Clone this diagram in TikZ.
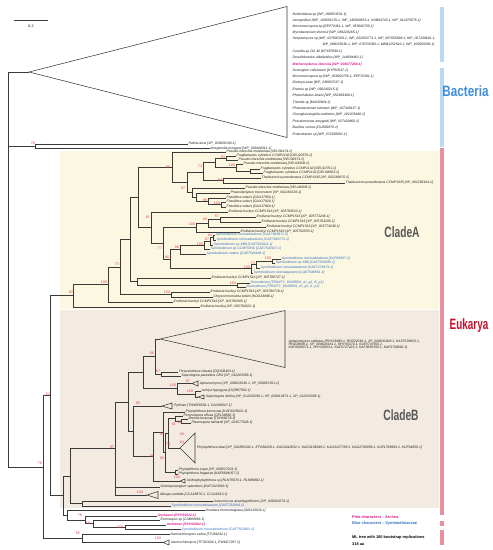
\documentclass[tikz,border=0pt]{standalone}
\usepackage{fontspec}
\setmainfont{Liberation Sans}
\usepackage{graphicx}
\definecolor{bsred}{HTML}{E53C46}
\definecolor{symblue}{HTML}{2F6CC4}
\definecolor{archpink}{HTML}{E0158A}
\definecolor{cAbg}{HTML}{FBF7E1}
\definecolor{cBbg}{HTML}{F3EBE1}
\definecolor{barblue}{HTML}{BCD9F2}
\definecolor{barpink}{HTML}{E8919E}
\definecolor{bactblue}{HTML}{3E8EDB}
\definecolor{eukred}{HTML}{C8102E}
\definecolor{cladegray}{HTML}{58585A}
\definecolor{linecol}{HTML}{3A3A3A}
\newcommand\lff{\fontsize{3.4}{4}\selectfont\itshape}
\newcommand\bsf{\fontsize{3.6}{4}\selectfont}
\newcommand\Nd[4]{\coordinate (#2) at (#3,#4); \draw[br] (#1) |- (#2);}
\newcommand\Lf[6][]{\coordinate (#3) at (#4,#5); \draw[br] (#2) |- (#3); \node[lf,#1] (t#3) at (#3) {#6};}
\newcommand\Tr[8][]{\coordinate (#3) at (#4,#5); \draw[br] (#2) |- (#3); \draw[br] (#3) -- (#6,#5-#7) -- (#6,#5+#7) -- cycle; \node[lf,#1] (t#3) at (#6+1.5,#5) {#8};}
\newcommand\Bs[4]{\node[bs] (#1) at (#2,#3) {#4};}
\newcommand\bigword[3]{\scalebox{#1}[1]{\fontsize{#2}{#2}\selectfont\bfseries #3}}
\tikzset{
  br/.style={draw=linecol, line width=0.55pt},
  lf/.style={anchor=west, inner sep=0.5pt, font=\lff, text=black!88},
  sym/.style={text=symblue},
  arc/.style={text=archpink, font=\lff\bfseries},
  bs/.style={inner sep=0pt, font=\bsf, text=bsred},
  leg/.style={anchor=west, inner sep=0pt, font=\fontsize{3.9}{4.5}\selectfont\bfseries}
}
\begin{document}
\begin{tikzpicture}[x=1pt,y=-1pt]
\useasboundingbox (0,0) rectangle (493,550);
\fill[white] (0,0) rectangle (493,550);
% backgrounds
\fill[cAbg] (60,150.5) rectangle (439,309);
\fill[cBbg] (60,309.5) rectangle (439,508);
% side bars
\fill[barblue] (440,7) rectangle (444,62);
\fill[barblue] (440,68) rectangle (444,147);
\fill[barpink] (440,148) rectangle (444,515);
\fill[barpink] (440,521) rectangle (444,526);
\fill[barpink] (440,530) rectangle (444,545);
\node[text=bactblue] (lbact) at (465.5,91.5) {\bigword{0.78}{15}{Bacteria}};
\node[text=eukred] (leuk) at (469,326) {\bigword{0.66}{15}{Eukarya}};
\node[text=cladegray] (lcA) at (402,232) {\bigword{0.68}{15}{CladeA}};
\node[text=cladegray] (lcB) at (401,415) {\bigword{0.68}{15}{CladeB}};
% scale bar
\coordinate (sb1) at (14,20); \coordinate (sb2) at (48,20);
\draw[br] (sb1) -- (sb2);
\node[inner sep=0pt, font=\fontsize{3.6}{4}\selectfont] (sbl) at (31,26.5) {0.2};
% root
\coordinate (root) at (8,270);
\Tr{root}{bact}{29}{72}{287}{65.5}{}
\node[lf] (b1) at (292,15) {Burkholderia sp [WP\_098853531.1]};
\node[lf] (b2) at (292,21) {Azospirillum [WP\_109051070.1, WP\_145660853.1, NUB04743.1, WP\_012975576.1]};
\node[lf] (b3) at (292,27) {Micromonospora sp [EEP70361.1, WP\_053660755.1]};
\node[lf] (b4) at (292,33) {Mycobacterium sherrisii [WP\_084229265.1]};
\node[lf] (b5) at (292,39) {Streptomyces sp [WP\_037800363.1, WP\_052650771.1, WP\_087055898.1, WP\_067238601.1,};
\node[lf] (b5b) at (322,45) {WP\_098025036.1, WP\_078705080.1, MBB1252542.1, WP\_159665058.1]};
\node[lf] (b6) at (292,52) {Coxiella sp DG 40 [KFX87896.1]};
\node[lf] (b7) at (292,58) {Desulfobotulus alkaliphilus [WP\_144684461.1]};
\node[lf,arc] (b8) at (292,64.5) {Methanoplanus limicola [WP\_004077288.1]};
\node[lf] (b9) at (292,71) {Sorangium cellulosum [KYF60037.1]};
\node[lf] (b10) at (292,77) {Micromonospora sp [WP\_053660756.1, EEP70391.1]};
\node[lf] (b11) at (292,83) {Dickeya zeae [WP\_038907037.1]};
\node[lf] (b12) at (292,89.5) {Erwinia sp [WP\_096240215.1]};
\node[lf] (b13) at (292,96) {Photorhabdus khanii [WP\_052983308.1]};
\node[lf] (b14) at (292,102.5) {Tistrella sp [MAI33904.1]};
\node[lf] (b15) at (292,109) {Photobacterium lutimaris [WP\_107349157.1]};
\node[lf] (b16) at (292,115) {Chengkuizengella sediminis [WP\_182205488.1]};
\node[lf] (b17) at (292,121.5) {Pseudomonas amygdali [WP\_057429860.1]};
\node[lf] (b18) at (292,128) {Bacillus cereus [OUB09676.1]};
\node[lf] (b19) at (292,135) {Enterobacter sp [WP\_072568091.1]};
% Hafnia / Morganella
\Nd{root}{N76}{35}{146.25}
\Lf{N76}{hafn}{188}{144}{Hafnia alvei [XP\_009828190.1]}
\Lf{N76}{morg}{210}{148.5}{Morganella morganii [WP\_036408011.1]}
% main eukaryote part
\Nd{root}{N78r}{43}{467.1}
\Nd{N78r}{N51}{50}{395.7}
% ---------- Clade A
\Nd{N51}{N82}{73}{295.75}
\Lf{N82}{l34}{200}{307}{Emiliania huxleyi [XP\_005782921.1]}
\Nd{N82}{N100a}{108}{284.5}
\Lf{N100a}{l33}{173}{302}{Emiliania huxleyi CCMP1516 [XP\_005780305.1]}
\Nd{N100a}{N73}{120}{267}
\Nd{N73}{N100b}{171}{294.5}
\Lf{N100b}{l31}{210}{292}{Emiliania huxleyi CCMP1516 [XP\_005780719.1]}
\Lf{N100b}{l32}{213}{297}{Chrysochromulina tobinii [KOO24098.1]}
\Nd{N73}{N130}{130}{239.4}
\Nd{N130}{N137}{137}{281.5}
\Lf{N137}{l28}{211}{278}{Emiliania huxleyi CCMP1516 [XP\_005780727.1]}
\Nd{N137}{N100d}{237}{285}
\Lf[sym]{N100d}{l29}{250}{283}{Durusdinium [TRINITY\_DN38509\_c0\_g1\_i5\_p1]}
\Lf[sym]{N100d}{l30}{246}{287}{Durusdinium [TRINITY\_DN38509\_c0\_g1\_i1\_p1]}
\Nd{N130}{N138}{138}{197.3}
\Nd{N138}{N99}{172}{167.2}
\Lf{N99}{l1}{226}{152}{Pseudo-nitzschia multistriata [VEU36474.1]}
\Nd{N99}{N97a}{187}{182.3}
\Nd{N97a}{N73b}{203}{172}
\Nd{N73b}{NX}{215}{162.75}
\Nd{NX}{N93}{226}{158}
\Lf{N93}{l2}{236}{156}{Fragilariopsis cylindrus CCMP1102 [OEU20579.1]}
\Lf{N93}{l3}{238}{160}{Pseudo-nitzschia multistriata [VEU36673.1]}
\Nd{NX}{N100i}{236}{167.5}
\Lf{N100i}{l4}{243}{164}{Pseudo-nitzschia multistriata [VEU24508.1]}
\Nd{N100i}{N56}{250}{171}
\Lf{N56}{l5}{260}{169}{Fragilariopsis cylindrus CCMP1102 [OEU10751.1]}
\Lf{N56}{l6}{263}{173}{Fragilariopsis cylindrus CCMP1102 [OEU08653.1]}
\Nd{N73b}{N89t}{223}{180.5}
\Lf{N89t}{l7}{261}{178}{Thalassiosira pseudonana CCMP1335 [XP\_002289670.1]}
\Lf{N89t}{l8}{345}{183}{Thalassiosira pseudonana CCMP1335 [XP\_002295194.1]}
\Nd{N97a}{Nlow}{192}{192.6}
\Lf{Nlow}{l9}{245}{188}{Pseudo-nitzschia multistriata [VEU44808.1]}
\Nd{Nlow}{Nlow2}{196}{197}
\Lf{Nlow2}{l10}{230}{193}{Phaeodactylum tricornutum [XP\_002181536.1]}
\Nd{Nlow2}{N99f}{208}{201.25}
\Lf{N99f}{l11}{226}{198}{Fistulifera solaris [GAX17950.1]}
\Nd{N99f}{N100j}{221}{204.5}
\Lf{N100j}{l12}{226}{202}{Fistulifera solaris [GAX17926.1]}
\Lf{N100j}{l13}{226}{207}{Fistulifera solaris [GAX17964.1]}
\Nd{N138}{N81}{151}{227.6}
\Lf{N81}{l14}{228}{212}{Emiliania huxleyi CCMP1516 [XP\_005769513.1]}
\Nd{N81}{N77}{163}{243.3}
\Nd{N77}{N100e}{196}{227.6}
\Lf{N100e}{l18}{240}{232}{Emiliania huxleyi CCMP1516 [XP\_005762553.1]}
\Nd{N100e}{N89}{208}{223.25}
\Lf{N89}{l17}{266}{227}{Emiliania huxleyi CCMP1516 [XP\_005774239.1]}
\Nd{N89}{N57}{220}{219.5}
\Lf{N57}{l15}{256}{217}{Emiliania huxleyi CCMP1516 [XP\_005772246.1]}
\Lf{N57}{l16}{261}{222}{Emiliania huxleyi CCMP1516 [XP\_005763206.1]}
\Nd{N77}{N86}{170}{259}
\Nd{N86}{N88}{180}{249.5}
\Lf[sym]{N88}{l23}{206}{254}{Symbiodinium natans [CAE7543449.1]}
\Nd{N88}{N100h}{204}{245}
\Lf[sym]{N100h}{l22}{210}{249}{Symbiodinium sp CCMP2456 [CAE7540917.1]}
\Nd{N100h}{N87}{210}{241.25}
\Lf[sym]{N87}{l21}{213}{245}{Symbiodinium sp KB8 [CAE7693111.1]}
\Nd{N87}{N94}{213}{237.5}
\Lf[sym]{N94}{l19}{215}{235}{Symbiodinium microadriaticum [CAE7693871.1]}
\Lf[sym]{N94}{l20}{216}{240}{Symbiodinium microadriaticum [CAE7693771.1]}
\Nd{N86}{N100f}{251}{268.75}
\Lf[sym]{N100f}{l27}{253}{273}{Symbiodinium necroappetens [CAE7948851.1]}
\Nd{N100f}{N71}{256}{264.5}
\Lf[sym]{N71}{l26}{260}{268}{Symbiodinium microadriaticum [CAE7278473.1]}
\Nd{N71}{N100g}{272}{261}
\Lf[sym]{N100g}{l24}{281}{259}{Symbiodinium microadriaticum [OLP96307.1]}
\Lf[sym]{N100g}{l25}{275}{263}{Symbiodinium sp KB8 [CAE7206289.1]}
% ---------- Clade B
\Nd{N51}{N63}{63}{495.6}
\Nd{N63}{N70}{70}{476}
\Nd{N70}{N97}{115}{448.5}
\Nd{N97}{N128}{128}{402}
\Nd{N128}{N143}{143}{372.5}
\Nd{N143}{N66}{155}{356.5}
\Tr{N66}{stel}{160}{339}{285}{28.5}{}
\node[lf, align=left] (tstel) at (288,345) {Aphanomyces stellatus [RHY28489.1, RHZ22018.1, XP\_008632928.1, KAF0728653.1,\\[-0.9pt]RHZ08098.1, XP\_008629161.1, RHY36374.1, KAF0747500.1,\\[-0.9pt]KAF0699071.1, RHY26963.1, KAF0727423.1, KAF0695359.1, KAF0749682.1]};
\Nd{N66}{N67}{161}{374}
\Lf{N67}{thra}{178}{372}{Thraustotheca clavata [OQS08403.1]}
\Lf{N67}{spar}{181}{376}{Saprolegnia parasitica CBS [XP\_012203358.1]}
\Nd{N143}{N100s}{177}{388.75}
\Tr{N100s}{aph}{192}{383.5}{198}{2.6}{Aphanomyces [XP\_008628136.1, XP\_008867251.1]}
\Nd{N100s}{N100c}{195}{394}
\Lf{N100c}{achl}{201}{391}{Achlya hypogyna [OQR87692.1]}
\Tr{N100c}{sdic}{198}{397}{204}{2}{Saprolegnia diclina [XP\_012203236.1, XP\_008614971.1, XP\_012203358.1]}
\Nd{N128}{N133}{133}{431.5}
\Tr{N133}{pyth}{162}{406}{172}{3}{Pythium [TWW58336.1, GAX99547.1]}
\Nd{N133}{N96}{153}{456.5}
\Nd{N96}{N95}{163}{432}
\Lf{N95}{kern}{185}{412}{Phytophthora kernoviae [KAF4325001.1]}
\Nd{N95}{N90}{165}{452.5}
\Nd{N90}{N79}{168}{433}
\Nd{N79}{N81b}{175}{418.5}
\Lf{N81b}{pero}{183}{416}{Peronospora effusa [CEL09882.1]}
\Nd{N81b}{N83}{181}{421}
\Lf{N83}{brem}{188}{419}{Bremia lactucae [TDH68278.1]}
\Lf{N83}{plas}{191}{423}{Plasmopara halstedii [XP\_024577028.1]}
\Tr{N79}{idae}{180}{448}{195}{15}{Phytophthora idaei [XP\_002895182.1, ETO84209.1, KAG3242052.1, KAG3108649.1, KAG3107788.1, KAG2768959.1, KAF1768993.1, KUF94659.1]}
\Nd{N90}{Nsoj}{175}{472}
\Lf{Nsoj}{soja}{178}{470}{Phytophthora sojae [XP\_009527203.1]}
\Lf{Nsoj}{frag}{178}{474}{Phytophthora fragariae [KAE8994057.1]}
\Tr{N96}{noth}{180}{481}{185}{2}{Nothophytophthora sp [RLN78070.1, RLN89892.1]}
\Lf{N97}{glob}{160}{487}{Globisporangium splendens [KAF1323063.1]}
\Tr{N97}{albu}{147}{495}{158}{3.5}{Albugo candida [CCA18876.1, CCA16013.1]}
\Nd{N70}{N82x}{82}{503.75}
\Lf{N82x}{aure}{213}{501.5}{Aureococcus anophagefferens [XP\_009033276.1]}
\Lf[sym]{N82x}{sym1}{171}{506}{Symbiodinium microadriaticum [CAE7782894.1]}
% ---------- lower groups
\Nd{N63}{N67x}{67}{515.25}
\Lf{N67x}{hond}{205}{510.5}{Hondaea fermentalgiana [GBG30629.1]}
\Nd{N67x}{N78b}{85}{520}
\Lf[arc]{N78b}{arc1}{157}{516}{Archaeon [RYH31012.1]}
\Nd{N78b}{N58}{93}{523.6}
\Lf{N58}{ecto}{160}{520}{Ectocarpus sp [CAB89966.1]}
\Nd{N58}{N100k}{125}{527.25}
\Lf[arc]{N100k}{arc2}{166}{525}{Archaeon [RYH31002.1]}
\Lf[sym]{N100k}{sym2}{181}{529.5}{Symbiodinium microadriaticum [CAE7502963.1]}
\Nd{N78r}{N65}{82}{538.5}
\Lf{N65}{sali}{170}{534.5}{Nannochloropsis salina [TFJ84292.1]}
\Tr{N65}{nann}{163}{542.5}{169}{2.5}{Nannochloropsis [TFJ81606.1, EWM27297.1]}
% ---------- bootstrap values
\Bs{s1}{33}{143}{76}
\Bs{s2}{40}{463}{78}
\Bs{s3}{48}{394}{51}
\Bs{s4}{71}{292}{82}
\Bs{s5}{104}{282}{100}
\Bs{s6}{117}{264}{73}
\Bs{s7}{168}{167}{99}
\Bs{s8}{183}{188}{97}
\Bs{s9}{200}{166}{73}
\Bs{s10}{223}{157}{93}
\Bs{s11}{232}{165}{100}
\Bs{s12}{220}{180}{89}
\Bs{s13}{205}{200}{99}
\Bs{s14}{217}{203}{100}
\Bs{s15}{148}{217}{81}
\Bs{s16}{192}{224}{100}
\Bs{s17}{205}{219}{89}
\Bs{s18}{217}{216}{57}
\Bs{s19}{160}{248}{77}
\Bs{s20}{167}{257}{86}
\Bs{s21}{177}{247}{88}
\Bs{s22}{210}{235}{94}
\Bs{s23}{207}{239}{87}
\Bs{s24}{200}{244}{100}
\Bs{s25}{268}{258}{100}
\Bs{s26}{253}{263}{71}
\Bs{s27}{247}{267}{100}
\Bs{s28}{167}{292}{100}
\Bs{s29}{233}{283}{100}
\Bs{s30}{152}{353}{66}
\Bs{s31}{158}{371}{67}
\Bs{s32}{188}{381}{87}
\Bs{s33}{173}{385}{100}
\Bs{s34}{190}{391}{100}
\Bs{s35}{138}{403}{85}
\Bs{s36}{180}{422}{83}
\Bs{s37}{174}{424}{81}
\Bs{s38}{162}{434}{95}
\Bs{s39}{182}{434}{86}
\Bs{s40}{182}{442}{84}
\Bs{s41}{168}{444}{79}
\Bs{s42}{112}{447}{97}
\Bs{s43}{152}{456}{96}
\Bs{s44}{162}{458}{90}
\Bs{s45}{177}{477}{100}
\Bs{s46}{140}{492}{100}
\Bs{s47}{80}{515}{78}
\Bs{s48}{88}{523}{58}
\Bs{s49}{120}{527}{100}
\Bs{s50}{78}{533}{65}
\Bs{s51}{158}{538}{100}
% ---------- legend
\node[leg, text=archpink] (g1) at (352,517) {Pink characters : Archea};
\node[leg, text=symblue] (g2) at (352,523.5) {Blue characters : Symbiodiniaceae};
\node[leg, text=black] (g3) at (352,537) {ML tree with 100 bootstrap replications};
\node[leg, text=black] (g4) at (352,544) {318 aa};
\end{tikzpicture}
\end{document}
